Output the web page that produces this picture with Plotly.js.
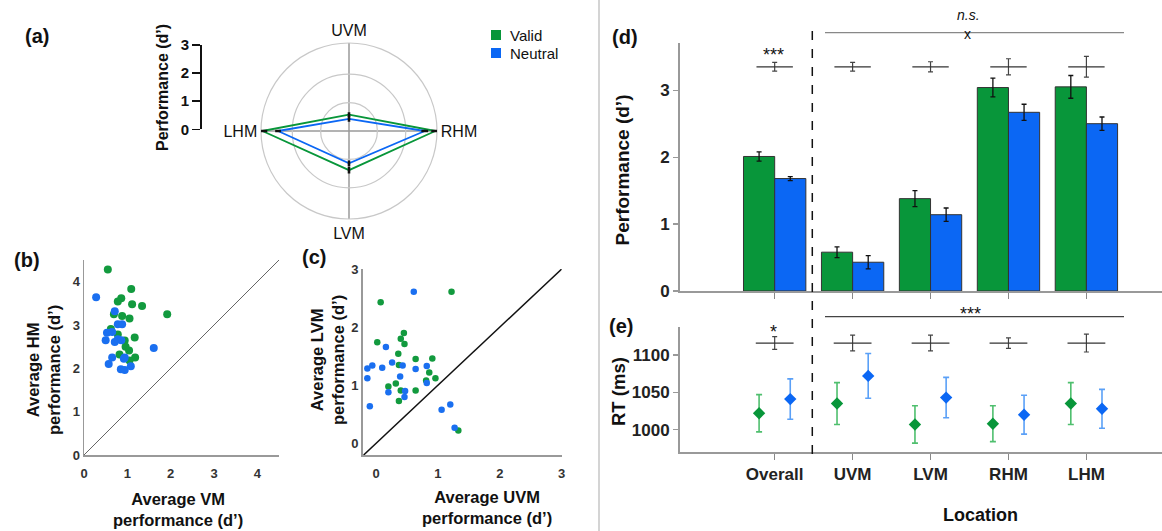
<!DOCTYPE html>
<html>
<head>
<meta charset="utf-8">
<script src="https://cdn.plot.ly/plotly-3.0.1.min.js"></script>
<style>html,body{margin:0;padding:0;background:#fff;}#chart{width:1162px;height:531px;}</style>
</head>
<body>
<div id="chart"></div>
<script>
// ---------------- DATA ----------------
const categories = ['Overall', 'UVM', 'LVM', 'RHM', 'LHM'];
// (d) performance d'
const perfValid = [2.01, 0.58, 1.38, 3.04, 3.05];
const perfValidErr = [0.07, 0.08, 0.12, 0.14, 0.17];
const perfNeutral = [1.68, 0.43, 1.14, 2.67, 2.50];
const perfNeutralErr = [0.03, 0.10, 0.10, 0.12, 0.10];
const perfDiffErr = [0.065, 0.065, 0.075, 0.12, 0.155];
// (e) RT (ms)
const rtValid = [1022, 1035, 1007, 1008, 1035];
const rtValidErr = [25, 28, 25, 24, 28];
const rtNeutral = [1041, 1072, 1043, 1020, 1028];
const rtNeutralErr = [27, 30, 27, 26, 26];
const rtDiffErr = [8.5, 10.5, 10.5, 7, 12];
// (a) radar order around the circle
const radarOrder = ['UVM', 'LHM', 'LVM', 'RHM'];
const radarAngularOrder = ['RHM', 'UVM', 'LHM', 'LVM'];
// (b) Average VM vs HM performance
const bValidVM = [0.55, 1.09, 0.86, 0.78, 1.11, 1.34, 1.92, 0.69, 0.88, 1.05, 0.62, 0.78, 1.17, 0.94, 0.96, 1.04, 0.82, 1.18, 1.05];
const bValidHM = [4.28, 3.83, 3.62, 3.54, 3.48, 3.44, 3.25, 3.25, 3.21, 3.15, 2.91, 2.78, 2.71, 2.64, 2.50, 2.41, 2.32, 2.25, 2.18];
const bNeutralVM = [0.28, 0.71, 0.78, 0.88, 0.53, 0.65, 0.50, 0.71, 0.78, 0.86, 1.61, 0.65, 0.94, 0.92, 0.57, 0.85, 0.94, 1.08];
const bNeutralHM = [3.64, 3.32, 3.02, 3.02, 2.82, 2.84, 2.65, 2.61, 2.67, 2.65, 2.47, 2.25, 2.25, 2.22, 2.10, 1.98, 1.96, 2.05];
// (c) Average UVM vs LVM performance
const cValidUVM = [1.22, 0.075, 0.45, 0.02, 0.40, 0.46, 0.36, 0.64, 0.91, 0.37, 0.86, 0.96, 0.81, 0.32, 0.20, 0.40, 0.64, 0.37, 1.33];
const cValidLVM = [2.61, 2.43, 1.90, 1.74, 1.80, 1.71, 1.54, 1.45, 1.46, 1.35, 1.22, 1.12, 1.08, 1.03, 0.98, 0.91, 0.91, 0.73, 0.22];
const cNeutralUVM = [0.61, 0.16, 0.26, -0.06, -0.14, 0.10, 0.43, 0.64, 0.82, 0.39, -0.14, 0.82, 0.20, 0.47, 0.46, -0.10, 1.20, 1.06, 1.27];
const cNeutralLVM = [2.61, 1.66, 1.39, 1.34, 1.29, 1.30, 1.34, 1.28, 1.33, 1.15, 1.12, 1.04, 0.88, 0.90, 0.80, 0.64, 0.67, 0.58, 0.27];

// ---------------- STYLE ----------------
const GREEN = '#08963a';
const BLUE = '#0b67f4';
const GREEN_DOT = '#129a3e';
const BLUE_DOT = '#1a6ff0';
const FONT = 'Liberation Sans, Arial, Helvetica, sans-serif';
const W = 1162, H = 531;
const PX = p => p / W;
const PY = p => 1 - p / H;

const idx = categories.map((c, i) => i);
const GROUP_OFF = 0.2;
const DIFF_PERF_LEVEL = 3.35;
const DIFF_RT_LEVEL = 1116;

function pick(arr, names) { return names.map(n => arr[categories.indexOf(n)]); }
const radarTheta = radarOrder.concat([radarOrder[0]]);
const radarValid = pick(perfValid, radarTheta);
const radarNeutral = pick(perfNeutral, radarTheta);

// error segments for radar
const segR = [], segT = [];
[[perfValid, perfValidErr], [perfNeutral, perfNeutralErr]].forEach(([v, e]) => {
  radarOrder.forEach(loc => {
    const k = categories.indexOf(loc);
    segR.push(v[k] - e[k], v[k] + e[k], null);
    segT.push(loc, loc, null);
  });
});

const traces = [
  { type: 'scatterpolar', r: radarValid, theta: radarTheta, mode: 'lines',
    line: { color: GREEN, width: 1.8 }, subplot: 'polar', hoverinfo: 'skip', showlegend: false },
  { type: 'scatterpolar', r: radarNeutral, theta: radarTheta, mode: 'lines',
    line: { color: BLUE, width: 1.8 }, subplot: 'polar', hoverinfo: 'skip', showlegend: false },
  { type: 'scatterpolar', r: segR, theta: segT, mode: 'lines', connectgaps: false,
    line: { color: '#111', width: 2.6 }, subplot: 'polar', hoverinfo: 'skip', showlegend: false },
  { type: 'scatter', x: [], y: [], xaxis: 'x5', yaxis: 'y5', showlegend: false, hoverinfo: 'skip' },
  // (b)
  { type: 'scatter', mode: 'markers', x: bValidVM, y: bValidHM, xaxis: 'x2', yaxis: 'y2',
    marker: { color: GREEN_DOT, size: 8 }, name: 'Valid', showlegend: false },
  { type: 'scatter', mode: 'markers', x: bNeutralVM, y: bNeutralHM, xaxis: 'x2', yaxis: 'y2',
    marker: { color: BLUE_DOT, size: 8 }, name: 'Neutral', showlegend: false },
  // (c)
  { type: 'scatter', mode: 'markers', x: cValidUVM, y: cValidLVM, xaxis: 'x3', yaxis: 'y3',
    marker: { color: GREEN_DOT, size: 6.5 }, name: 'Valid', showlegend: false },
  { type: 'scatter', mode: 'markers', x: cNeutralUVM, y: cNeutralLVM, xaxis: 'x3', yaxis: 'y3',
    marker: { color: BLUE_DOT, size: 6.5 }, name: 'Neutral', showlegend: false },
  // (d)
  { type: 'bar', x: idx, y: perfValid, xaxis: 'x4', yaxis: 'y4', name: 'Valid',
    marker: { color: GREEN, line: { color: '#333', width: 1 } },
    error_y: { type: 'data', array: perfValidErr, color: '#111', thickness: 1.3, width: 2.5 }, showlegend: false },
  { type: 'bar', x: idx, y: perfNeutral, xaxis: 'x4', yaxis: 'y4', name: 'Neutral',
    marker: { color: BLUE, line: { color: '#333', width: 1 } },
    error_y: { type: 'data', array: perfNeutralErr, color: '#111', thickness: 1.3, width: 2.5 }, showlegend: false },
  { type: 'scatter', mode: 'markers', x: idx, y: idx.map(() => DIFF_PERF_LEVEL), xaxis: 'x4', yaxis: 'y4',
    marker: { symbol: 'line-ew-open', size: 26, color: '#333', line: { color: '#333', width: 1.2 } },
    error_y: { type: 'data', array: perfDiffErr, color: '#444', thickness: 1.2, width: 2.5 },
    showlegend: false, cliponaxis: false },
  // (e)
  { type: 'scatter', mode: 'markers', x: idx.map(i => i - GROUP_OFF), y: rtValid, xaxis: 'x6', yaxis: 'y6',
    marker: { symbol: 'diamond', size: 9.5, color: GREEN },
    error_y: { type: 'data', array: rtValidErr, color: '#4fbf6e', thickness: 1.6, width: 3 }, showlegend: false },
  { type: 'scatter', mode: 'markers', x: idx.map(i => i + GROUP_OFF), y: rtNeutral, xaxis: 'x6', yaxis: 'y6',
    marker: { symbol: 'diamond', size: 9.5, color: BLUE },
    error_y: { type: 'data', array: rtNeutralErr, color: '#5aa0f7', thickness: 1.6, width: 3 }, showlegend: false },
  { type: 'scatter', mode: 'markers', x: idx, y: idx.map(() => DIFF_RT_LEVEL), xaxis: 'x6', yaxis: 'y6',
    marker: { symbol: 'line-ew-open', size: 27, color: '#333', line: { color: '#333', width: 1.2 } },
    error_y: { type: 'data', array: rtDiffErr, color: '#444', thickness: 1.2, width: 2.5 },
    showlegend: false, cliponaxis: false }
];

const tickBold = (s, c) => ({ family: FONT, size: s, color: c || '#222', weight: 'bold' });

const scatterAxis = (dom, rng, anchor, tv) => ({
  domain: dom, range: rng, anchor: anchor, showline: true, linecolor: '#999', linewidth: 1.5,
  ticks: '', showgrid: false, zeroline: false, tickvals: tv, tickfont: tickBold(13, '#333')
});

function ann(text, x, y, size, opts) {
  return Object.assign({ text: text, x: PX(x), y: PY(y), xref: 'paper', yref: 'paper', showarrow: false,
    xanchor: 'center', yanchor: 'middle', font: { family: FONT, size: size, color: '#111' } }, opts || {});
}

const annotations = [
  ann('<b>(a)</b>', 37, 36, 20),
  ann('<b>(b)</b>', 27, 260, 20),
  ann('<b>(c)</b>', 314, 257, 20),
  ann('<b>(d)</b>', 625, 37, 20),
  ann('<b>(e)</b>', 621, 326, 20),
  ann('Valid', 508, 35, 15, { xanchor: 'left' }),
  ann('Neutral', 508, 53, 15, { xanchor: 'left' }),
  ann('<b>Performance (d’)</b>', 162.5, 87.5, 16, { textangle: -90 }),
  ann('<b>Average HM<br>performance (d’)</b>', 43, 370, 16.5, { textangle: -90 }),
  ann('<b>Average VM<br>performance (d’)</b>', 178, 509, 16.5),
  ann('<b>Average LVM<br>performance (d’)</b>', 327, 360, 16.5, { textangle: -90 }),
  ann('<b>Average UVM<br>performance (d’)</b>', 487, 507, 16.5),
  ann('<b>Performance (d’)</b>', 621.5, 170, 19, { textangle: -90 }),
  ann('<b>RT (ms)</b>', 618, 392, 18.5, { textangle: -90 }),
  ann('<b>Location</b>', 980, 515, 18),
  ann('***', 773, 55, 18),
  ann('<i>n.s.</i>', 968, 15, 14),
  ann('x', 967.7, 34, 14),
  ann('*', 773, 332, 18),
  ann('***', 970, 314, 18)
];

const shapes = [
  { type: 'line', xref: 'paper', yref: 'paper', x0: PX(599), x1: PX(599), y0: 0, y1: 1, line: { color: '#d4d4d4', width: 2 } },
  { type: 'line', xref: 'x2', yref: 'y2', x0: 0, y0: 0, x1: 4.5, y1: 4.5, line: { color: '#666', width: 1 } },
  { type: 'line', xref: 'x3', yref: 'y3', x0: -0.2, y0: -0.2, x1: 3, y1: 3, line: { color: '#111', width: 1.5 } },
  { type: 'line', xref: 'paper', yref: 'paper', x0: PX(812.3), x1: PX(812.3), y0: PY(454), y1: PY(30.7), line: { color: '#111', width: 1.5, dash: 'dash' } },
  { type: 'line', xref: 'paper', yref: 'paper', x0: PX(825), x1: PX(1124), y0: PY(32.7), y1: PY(32.7), line: { color: '#888', width: 1.2 } },
  { type: 'line', xref: 'paper', yref: 'paper', x0: PX(825), x1: PX(1124), y0: PY(316.7), y1: PY(316.7), line: { color: '#444', width: 1.2 } },
  { type: 'rect', xref: 'paper', yref: 'paper', x0: PX(491), x1: PX(501), y0: PY(40), y1: PY(30), fillcolor: GREEN, line: { width: 0 } },
  { type: 'rect', xref: 'paper', yref: 'paper', x0: PX(491), x1: PX(501), y0: PY(58), y1: PY(48), fillcolor: BLUE, line: { width: 0 } }
];

const layout = {
  width: W, height: H,
  margin: { l: 0, r: 0, t: 0, b: 0, pad: 0 },
  paper_bgcolor: '#fff', plot_bgcolor: 'rgba(0,0,0,0)',
  font: { family: FONT, color: '#222' },
  showlegend: false,
  barmode: 'group', bargap: 0.2, bargroupgap: 0,
  polar: {
    domain: { x: [PX(261), PX(437)], y: [PY(219), PY(43)] },
    bgcolor: '#fff',
    radialaxis: { range: [0, 3.1], tickvals: [1, 2], showticklabels: false, ticks: '', showline: false,
      gridcolor: '#c8c8c8', gridwidth: 1.2, angle: 0, layer: 'below traces' },
    angularaxis: { type: 'category', categoryarray: radarAngularOrder, rotation: 0, direction: 'counterclockwise',
      showline: true, linecolor: '#c8c8c8', linewidth: 1.2, gridcolor: '#9a9a9a', gridwidth: 1.5,
      ticks: '', tickfont: { family: FONT, size: 16, color: '#111' }, layer: 'below traces' }
  },
  xaxis5: { domain: [PX(201.7), PX(206)], anchor: 'y5', visible: false, range: [0, 1] },
  yaxis5: { domain: [PY(129.3), PY(45)], anchor: 'x5', range: [0, 3], tickvals: [0, 1, 2, 3],
    showline: true, linecolor: '#111', linewidth: 1.5, ticks: 'outside', ticklen: 8, tickwidth: 1.5,
    tickcolor: '#111', showgrid: false, zeroline: false, tickfont: tickBold(15, '#111') },
  xaxis2: Object.assign(scatterAxis([PX(84), PX(279)], [0, 4.5], 'y2', [0, 1, 2, 3, 4]), { ticklabelstandoff: 6 }),
  yaxis2: scatterAxis([PY(455), PY(260)], [0, 4.5], 'x2', [0, 1, 2, 3, 4]),
  xaxis3: Object.assign(scatterAxis([PX(362.7), PX(561.7)], [-0.215, 3], 'y3', [0, 1, 2, 3]), { ticklabelstandoff: 6 }),
  yaxis3: scatterAxis([PY(455), PY(269)], [-0.2, 3], 'x3', [0, 1, 2, 3]),
  xaxis4: { domain: [PX(679.6), 1], anchor: 'y4', range: [-1.22, 4.97], tickvals: idx, ticktext: categories,
    showticklabels: false, ticks: 'outside', ticklen: 6, tickcolor: '#888', tickwidth: 1.2,
    showline: true, linecolor: '#999', linewidth: 1.5, showgrid: false, zeroline: false },
  yaxis4: { domain: [PY(291), PY(42.7)], anchor: 'x4', range: [0, 3.71], tickvals: [0, 1, 2, 3],
    ticks: 'outside', ticklen: 5, tickcolor: '#999', tickwidth: 1.2, showline: true, linecolor: '#999', linewidth: 1.5,
    showgrid: false, zeroline: false, tickfont: tickBold(17) },
  xaxis6: { domain: [PX(679.6), 1], anchor: 'y6', range: [-1.22, 4.97], tickvals: idx, ticktext: categories,
    ticks: 'outside', ticklen: 6, tickcolor: '#888', tickwidth: 1.2, tickfont: tickBold(17),
    showline: true, linecolor: '#999', linewidth: 1.5, showgrid: false, zeroline: false },
  yaxis6: { domain: [PY(452.3), PY(326.7)], anchor: 'x6', range: [969.7, 1137.9], tickvals: [1000, 1050, 1100],
    ticks: 'outside', ticklen: 5, tickcolor: '#999', tickwidth: 1.2, showline: true, linecolor: '#999', linewidth: 1.5,
    showgrid: false, zeroline: false, tickfont: tickBold(17) },
  annotations: annotations,
  shapes: shapes
};

Plotly.newPlot('chart', traces, layout, { staticPlot: true, displayModeBar: false });
</script>
</body>
</html>
